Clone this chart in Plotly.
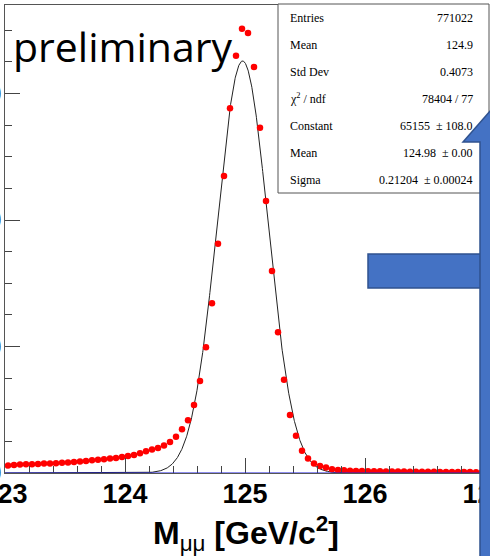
import numpy as np
import plotly.graph_objects as go

# ---------------- data ----------------
bin_low = 123.0
bin_width = 0.05
counts = [
    1170, 1260, 1330, 1370, 1390, 1430, 1490, 1520, 1560, 1610,
    1660, 1720, 1820, 1910, 2020, 2080, 2170, 2290, 2380, 2540,
    2700, 2850, 3110, 3430, 3700, 3950, 4330, 4890, 5740, 6900,
    8330, 10740, 14540, 19870, 26830, 36240, 46960, 57660, 65990, 70260,
    69560, 64190, 54610, 43000, 31940, 22240, 14740, 9170, 5880, 3510,
    2280, 1490, 1110, 850, 580, 470, 430, 350, 320, 300,
    290, 270, 260, 250, 240, 230, 220, 210, 200, 195,
    190, 180, 175, 170, 160, 150, 145, 140, 130, 125,
]
centers = [bin_low + bin_width * (i + 0.5) for i in range(len(counts))]

fit_constant = 65155
fit_mean = 124.98
fit_sigma = 0.21204

stats_labels = ["Entries", "Mean", "Std Dev", "χ<sup>2</sup> / ndf", "Constant", "Mean", "Sigma"]
stats_values = ["771022", "124.9", "0.4073", "78404 / 77", "65155  ± 108.0",
                "124.98  ± 0.00", "0.21204  ± 0.00024"]

x_ticks = [123, 124, 125, 126, 127]
y_ticks = [0, 20000, 40000, 60000]
x_title = "<b>M</b><sub>μμ</sub><b> [GeV/c<sup>2</sup>]</b>"

# ---------------- geometry helpers (pixel -> paper) ----------------
W, H = 490, 556
ML, MR, MT, MB = 5, 5, 5, 83
PW, PH = W - ML - MR, H - MT - MB


def px(x):
    return (x - ML) / PW


def py(y):
    return (H - MB - y) / PH


def path(points):
    s = "M " + " L ".join(f"{px(a):.5f},{py(b):.5f}" for a, b in points) + " Z"
    return s


fit_x = np.linspace(123.0, 127.0, 1601)
fit_y = fit_constant * np.exp(-0.5 * ((fit_x - fit_mean) / fit_sigma) ** 2)

fig = go.Figure()
fig.add_trace(go.Scatter(x=fit_x, y=fit_y, mode="lines",
                         line=dict(color="#222222", width=1), hoverinfo="skip"))
fig.add_trace(go.Scatter(x=centers, y=counts, mode="markers",
                         marker=dict(color="#ff0000", size=6.5, line=dict(width=0))))

tickfont = dict(family="Liberation Sans, Arial", size=27, color="black", weight="bold")

fig.update_layout(
    width=W, height=H,
    margin=dict(l=ML, r=MR, t=MT, b=MB, autoexpand=False),
    paper_bgcolor="white", plot_bgcolor="white",
    showlegend=False,
    xaxis=dict(
        range=[123, 127], tickmode="array", tickvals=x_ticks, automargin=False,
        ticklabeloverflow="allow", ticklabelstandoff=-3,
        ticks="inside", ticklen=15, tickwidth=1, tickcolor="#444",
        showline=True, linecolor="#555", linewidth=1, mirror=True,
        showgrid=False, zeroline=False, tickfont=tickfont,
        minor=dict(dtick=0.2, tick0=123, ticks="inside", ticklen=7, tickcolor="#444", showgrid=False),
    ),
    yaxis=dict(
        range=[0, 74000], tickmode="array", tickvals=y_ticks, automargin=False,
        ticklabeloverflow="allow", ticklabelstandoff=-3,
        tickformat="d",
        ticks="inside", ticklen=15, tickwidth=1, tickcolor="#444",
        showline=True, linecolor="#555", linewidth=1, mirror=True,
        showgrid=False, zeroline=False, tickfont=tickfont,
        minor=dict(dtick=5000, tick0=0, ticks="inside", ticklen=7, tickcolor="#444", showgrid=False),
    ),
)

shapes = []
# blue baseline
shapes.append(dict(type="line", xref="x", yref="y", x0=123, x1=127, y0=0, y1=0,
                   line=dict(color="#1f1fe0", width=1.2), layer="above"))
# stats box
shapes.append(dict(type="rect", xref="paper", yref="paper",
                   x0=px(278), x1=px(489), y0=py(193), y1=py(4),
                   fillcolor="white", line=dict(color="#555", width=1), layer="above"))
# blue horizontal bar
blue_fill = "#4472C4"
blue_line = "#2F528F"
shapes.append(dict(type="path", xref="paper", yref="paper",
                   path=path([(368, 254), (482, 254), (482, 288), (368, 288)]),
                   fillcolor=blue_fill, line=dict(color=blue_line, width=1.5), layer="above"))
# blue up arrow
shapes.append(dict(type="path", xref="paper", yref="paper",
                   path=path([(480, 570), (480, 142), (463, 142), (505, 94),
                              (547, 142), (530, 142), (530, 570)]),
                   fillcolor=blue_fill, line=dict(color=blue_line, width=1.5), layer="above"))
fig.update_layout(shapes=shapes)

ann = []
row_y = [18, 45, 72, 99, 126, 153, 180]
for lab, val, yy in zip(stats_labels, stats_values, row_y):
    ann.append(dict(xref="paper", yref="paper", x=px(288), y=py(yy), text=lab,
                    showarrow=False, xanchor="left", yanchor="middle",
                    font=dict(family="Liberation Serif, Times New Roman", size=12, color="black")))
    ann.append(dict(xref="paper", yref="paper", x=px(475), y=py(yy), text=val,
                    showarrow=False, xanchor="right", yanchor="middle",
                    font=dict(family="Liberation Serif, Times New Roman", size=12, color="black")))
ann.append(dict(xref="paper", yref="paper", x=px(11), y=py(46), text="preliminary",
                showarrow=False, xanchor="left", yanchor="middle",
                font=dict(family="Open Sans", size=41, color="black")))
# x-axis title
ann.append(dict(xref="paper", yref="paper", x=px(246), y=py(533), text=x_title,
                showarrow=False, xanchor="center", yanchor="middle",
                font=dict(family="Liberation Sans, Arial", size=32, color="black")))
fig.update_layout(annotations=ann)

fig.write_html("out.html")
